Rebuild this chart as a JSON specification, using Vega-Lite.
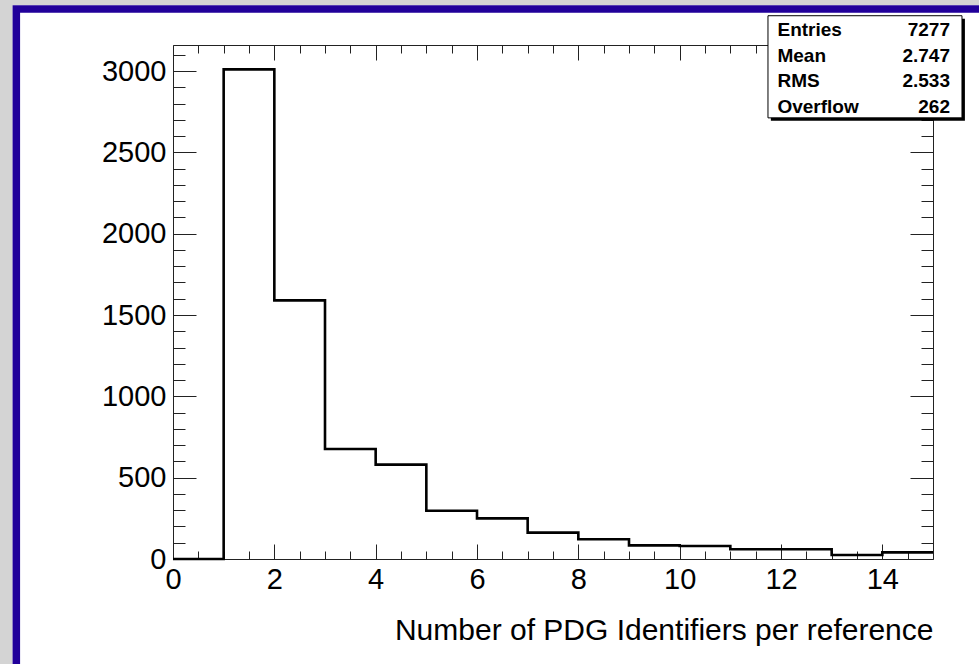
{
  "$schema": "https://vega.github.io/schema/vega-lite/v6.json",
  "width": 760,
  "height": 514,
  "autosize": "none",
  "padding": {"left": 173, "top": 45, "right": 46, "bottom": 105},
  "background": "white",
  "config": {
    "view": {"stroke": null},
    "axis": {
      "grid": false,
      "labelFont": "Liberation Sans",
      "labelFontSize": 29,
      "labelColor": "#000",
      "tickColor": "#222",
      "tickWidth": 1,
      "domainColor": "#222",
      "domainWidth": 1,
      "labelFlush": false,
      "labelOverlap": false,
      "titleFont": "Liberation Sans",
      "titleFontWeight": "normal",
      "titleColor": "#000"
    },
    "text": {"font": "Liberation Sans"}
  },
  "datasets": {
    "hist": [
      {"x": 0, "count": 0},
      {"x": 1, "count": 3010},
      {"x": 2, "count": 1590},
      {"x": 3, "count": 676},
      {"x": 4, "count": 580},
      {"x": 5, "count": 297},
      {"x": 6, "count": 250},
      {"x": 7, "count": 162},
      {"x": 8, "count": 121},
      {"x": 9, "count": 84},
      {"x": 10, "count": 80},
      {"x": 11, "count": 60},
      {"x": 12, "count": 60},
      {"x": 13, "count": 25},
      {"x": 14, "count": 41},
      {"x": 15, "count": 41}
    ],
    "stats": [
      {"stat": "Entries", "value": "7277"},
      {"stat": "Mean", "value": "2.747"},
      {"stat": "RMS", "value": "2.533"},
      {"stat": "Overflow", "value": "262"}
    ],
    "box": [{"item": "stats box"}]
  },
  "layer": [
    {
      "layer": [
        {
          "data": {"name": "box"},
          "mark": {"type": "rect", "fill": null, "stroke": "#d4d4d4", "strokeWidth": 40, "clip": false},
          "encoding": {
            "x": {"datum": -3.559, "type": "quantitative", "scale": {"domain": [0, 15], "nice": false, "zero": false}, "axis": null},
            "x2": {"datum": 17},
            "y": {"datum": 3529, "type": "quantitative", "scale": {"domain": [0, 3160], "nice": false, "zero": false}, "axis": null},
            "y2": {"datum": -1000}
          }
        },
        {
          "data": {"name": "box"},
          "mark": {"type": "rect", "fill": null, "stroke": "#21009a", "strokeWidth": 7.5, "clip": false},
          "encoding": {
            "x": {"datum": -3.092, "type": "quantitative", "axis": null},
            "x2": {"datum": 16.5},
            "y": {"datum": 3382, "type": "quantitative", "axis": null},
            "y2": {"datum": -900}
          }
        },
        {
          "data": {"name": "hist"},
          "mark": {"type": "line", "interpolate": "step-after", "color": "#000", "strokeWidth": 2.6, "clip": false},
          "encoding": {
            "x": {
              "field": "x", "type": "quantitative",
              "axis": {
                "orient": "bottom", "values": [0, 2, 4, 6, 8, 10, 12, 14],
                "tickSize": -15, "labelPadding": 21, "domain": true,
                "title": "Number of PDG Identifiers per reference",
                "titleAnchor": "end", "titleFontSize": 30, "titlePadding": 21
              }
            },
            "y": {
              "field": "count", "type": "quantitative",
              "axis": {
                "orient": "left", "values": [0, 500, 1000, 1500, 2000, 2500, 3000], "format": "d",
                "tickSize": -23, "labelPadding": 30, "domain": true, "title": null
              }
            }
          }
        },
        {
          "data": {"name": "hist"},
          "mark": {"type": "point", "opacity": 0},
          "encoding": {
            "x": {
              "field": "x", "type": "quantitative",
              "axis": {
                "orient": "bottom",
                "values": [0.5, 1, 1.5, 2.5, 3, 3.5, 4.5, 5, 5.5, 6.5, 7, 7.5, 8.5, 9, 9.5, 10.5, 11, 11.5, 12.5, 13, 13.5, 14.5],
                "tickSize": -8, "labels": false, "domain": false, "title": null
              }
            },
            "y": {
              "field": "count", "type": "quantitative",
              "axis": {
                "orient": "left",
                "values": [100, 200, 300, 400, 600, 700, 800, 900, 1100, 1200, 1300, 1400, 1600, 1700, 1800, 1900, 2100, 2200, 2300, 2400, 2600, 2700, 2800, 2900, 3100],
                "tickSize": -12, "labels": false, "domain": false, "title": null
              }
            }
          }
        },
        {
          "data": {"name": "hist"},
          "mark": {"type": "point", "opacity": 0},
          "encoding": {
            "x": {
              "field": "x", "type": "quantitative",
              "axis": {
                "orient": "top", "values": [0, 2, 4, 6, 8, 10, 12, 14],
                "tickSize": -15, "labels": false, "domain": true, "title": null
              }
            },
            "y": {
              "field": "count", "type": "quantitative",
              "axis": {
                "orient": "right", "values": [0, 500, 1000, 1500, 2000, 2500, 3000],
                "tickSize": -23, "labels": false, "domain": true, "title": null
              }
            }
          }
        },
        {
          "data": {"name": "hist"},
          "mark": {"type": "point", "opacity": 0},
          "encoding": {
            "x": {
              "field": "x", "type": "quantitative",
              "axis": {
                "orient": "top",
                "values": [0.5, 1, 1.5, 2.5, 3, 3.5, 4.5, 5, 5.5, 6.5, 7, 7.5, 8.5, 9, 9.5, 10.5, 11, 11.5, 12.5, 13, 13.5, 14.5],
                "tickSize": -8, "labels": false, "domain": false, "title": null
              }
            },
            "y": {
              "field": "count", "type": "quantitative",
              "axis": {
                "orient": "right",
                "values": [100, 200, 300, 400, 600, 700, 800, 900, 1100, 1200, 1300, 1400, 1600, 1700, 1800, 1900, 2100, 2200, 2300, 2400, 2600, 2700, 2800, 2900, 3100],
                "tickSize": -12, "labels": false, "domain": false, "title": null
              }
            }
          }
        },
        {
          "data": {"name": "box"},
          "mark": {"type": "rect", "fill": "#000", "clip": false},
          "encoding": {
            "x": {"datum": 11.80, "type": "quantitative", "axis": null},
            "x2": {"datum": 15.63},
            "y": {"datum": 3321, "type": "quantitative", "axis": null},
            "y2": {"datum": 2694}
          }
        },
        {
          "data": {"name": "box"},
          "mark": {"type": "rect", "fill": "#fff", "stroke": "#000", "strokeWidth": 1, "clip": false},
          "encoding": {
            "x": {"datum": 11.743, "type": "quantitative", "axis": null},
            "x2": {"datum": 15.572},
            "y": {"datum": 3340, "type": "quantitative", "axis": null},
            "y2": {"datum": 2712}
          }
        }
      ],
      "resolve": {"axis": {"x": "independent", "y": "independent"}}
    },
    {
      "data": {"name": "stats"},
      "layer": [
        {
          "mark": {"type": "text", "align": "left", "baseline": "alphabetic", "fontWeight": "bold", "fontSize": 19, "color": "#000", "clip": false},
          "encoding": {
            "x": {"datum": 11.93, "type": "quantitative", "axis": null},
            "y": {"field": "stat", "type": "ordinal", "sort": null, "scale": {"type": "point", "padding": 0, "range": [-9, 68]}, "axis": null},
            "text": {"field": "stat"}
          }
        },
        {
          "mark": {"type": "text", "align": "right", "baseline": "alphabetic", "fontWeight": "bold", "fontSize": 19, "color": "#000", "clip": false},
          "encoding": {
            "x": {"datum": 15.335, "type": "quantitative", "axis": null},
            "y": {"field": "stat", "type": "ordinal", "sort": null, "scale": {"type": "point", "padding": 0, "range": [-9, 68]}, "axis": null},
            "text": {"field": "value"}
          }
        }
      ]
    }
  ],
  "resolve": {"scale": {"y": "independent"}}
}
